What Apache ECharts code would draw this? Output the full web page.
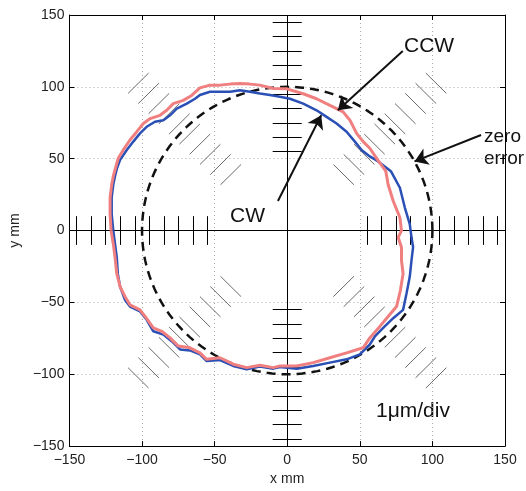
<!DOCTYPE html>
<html><head><meta charset="utf-8">
<script src="https://cdn.jsdelivr.net/npm/echarts@6/dist/echarts.min.js"></script>
<style>html,body{margin:0;padding:0;background:#fff}#c{width:526px;height:491px}</style>
</head><body><div id="c"></div>
<script>
// ---- data ----
const axisMin = -150, axisMax = 150, axisStep = 50;
const zeroErrorRadius = 100;                       // ideal circle (mm)
const divRadii = [55, 65, 75, 85, 95, 105, 115, 125, 135, 145]; // 1 µm/div marks
const axisDirections = [0, 90, 180, 270];           // degrees
const diagonalDirections = [45, 135, 225, 315];     // degrees

// CW run (blue), clockwise from the left
const cwPoints = [
  [-119.8,-0.1],[-120.9,11.4],[-120.9,22.9],[-119.8,32.0],[-118.6,37.8],[-117.2,43.5],[-115.1,49.2],
  [-110.5,56.1],[-106.0,61.9],[-101.4,67.6],[-96.8,72.2],[-91.1,75.7],[-85.3,76.8],[-80.7,80.2],
  [-76.1,84.8],[-69.2,88.3],[-63.5,91.7],[-60.1,94.3],[-53.2,96.6],[-46.3,96.6],[-39.4,96.6],
  [-32.6,97.7],[-25.7,96.6],[-18.8,95.4],[-11.9,94.3],[-5.0,93.1],[1.9,91.7],[11.0,88.3],
  [20.2,83.7],[27.1,79.1],[34.0,74.5],[40.9,68.8],[46.6,61.9],[51.2,56.1],[56.9,51.6],[62.4,48.3],
  [71.4,41.3],[77.6,29.8],[81.0,16.0],[84.4,4.5],[85.6,-4.7],[86.7,-11.6],[85.6,-20.7],[84.4,-32.2],
  [82.2,-43.7],[79.8,-55.2],[73.0,-61.0],[66.1,-67.8],[60.4,-73.6],[56.9,-79.3],[50.0,-86.2],
  [40.9,-89.6],[29.4,-91.9],[17.9,-94.2],[6.5,-96.1],[-5.0,-94.9],[-9.6,-96.1],[-18.8,-94.7],
  [-27.9,-96.5],[-37.2,-94.2],[-46.3,-90.1],[-55.5,-90.8],[-60.1,-86.2],[-67.0,-83.4],[-73.8,-82.7],
  [-79.6,-77.0],[-85.3,-72.4],[-92.2,-70.1],[-96.8,-62.1],[-101.4,-56.3],[-108.3,-52.9],[-111.7,-48.3],
  [-115.1,-39.1],[-116.7,-30.0],[-117.4,-18.5],[-118.6,-9.3],[-119.8,-0.1]
];

// CCW run (red), clockwise from the left
const ccwPoints = [
  [-121.3,-0.1],[-122.0,11.4],[-122.0,22.9],[-120.9,32.0],[-119.8,37.8],[-117.9,44.9],[-116.3,50.5],
  [-112.9,56.1],[-108.3,63.0],[-103.6,68.8],[-99.1,74.5],[-94.5,77.9],[-87.6,80.2],[-83.0,83.7],
  [-78.5,88.3],[-71.6,90.6],[-65.8,94.0],[-60.1,99.3],[-53.2,101.2],[-46.3,101.2],[-39.4,101.9],
  [-32.6,102.3],[-25.7,101.9],[-18.8,101.2],[-9.6,98.8],[-0.2,98.6],[11.0,95.2],[20.2,91.7],
  [29.4,87.1],[38.5,82.6],[43.2,76.8],[47.8,67.6],[52.3,61.9],[56.9,57.3],[62.4,49.0],[67.9,41.3],
  [69.5,32.0],[73.0,20.6],[77.6,9.1],[78.7,-0.1],[76.4,-4.7],[78.7,-11.6],[78.7,-20.7],[79.8,-30.0],
  [78.0,-41.4],[75.3,-52.9],[69.5,-59.8],[63.8,-66.7],[56.9,-74.7],[52.3,-81.6],[40.9,-85.1],
  [29.4,-88.5],[17.9,-91.9],[6.5,-94.2],[-5.0,-94.2],[-9.6,-95.4],[-18.8,-93.7],[-27.9,-95.4],
  [-37.2,-93.0],[-46.3,-88.5],[-55.5,-89.6],[-60.1,-85.1],[-67.0,-81.6],[-75.0,-80.4],[-80.7,-74.7],
  [-86.4,-70.1],[-92.2,-67.8],[-97.9,-59.8],[-101.4,-55.2],[-108.3,-51.7],[-111.7,-46.0],[-115.1,-39.1],
  [-117.4,-30.0],[-118.6,-18.5],[-119.8,-9.3],[-121.3,-0.1]
];

// ---- build helper geometry ----
const FONT = "'Liberation Sans', Arial, Helvetica, sans-serif";
const divHalf = 10;
function divSegments(dirs) {
  const out = [];
  dirs.forEach(d => {
    const a = d * Math.PI / 180, c = Math.cos(a), s = Math.sin(a);
    divRadii.forEach(r => {
      const cx = r * c, cy = r * s;
      out.push({ coords: [[cx + divHalf * s, cy - divHalf * c], [cx - divHalf * s, cy + divHalf * c]] });
    });
  });
  return out;
}
const axisSegs = divSegments(axisDirections).concat([
  { coords: [[axisMin, 0], [axisMax, 0]] },
  { coords: [[0, axisMin], [0, axisMax]] }
]);
const diagSegs = divSegments(diagonalDirections);
const circlePts = [];
for (let k = 0; k <= 180; k++) {
  const a = k * 2 * Math.PI / 180;
  circlePts.push([zeroErrorRadius * Math.cos(a), zeroErrorRadius * Math.sin(a)]);
}
const arrows = [
  { coords: [[79.6, 125.0], [34.9, 83.7]] },   // CCW
  { coords: [[-6.4, 20.6], [23.4, 80.2]] },    // CW
  { coords: [[133.5, 66.5], [87.7, 48.1]] }    // zero error
];

const fmt = v => String(v).replace('-', '\u2212');
const frameAxis = (pos, isX, main) => ({
  type: 'value', min: axisMin, max: axisMax, interval: axisStep, position: pos,
  axisLine: { show: true, onZero: false, lineStyle: { color: '#000', width: 1 } },
  axisTick: { show: true, inside: true, length: 5, lineStyle: { color: '#000', width: 1 } },
  axisLabel: main ? { show: true, margin: isX ? 7 : 5, fontSize: 14, color: '#222', fontFamily: FONT, formatter: fmt } : { show: false },
  splitLine: main ? { show: true, lineStyle: { type: [1, 3], color: '#aaa', width: 1 } } : { show: false },
  name: main ? (isX ? 'x mm' : 'y mm') : '',
  nameLocation: 'middle',
  nameGap: isX ? 23 : 37,
  nameTextStyle: { fontSize: 14, color: '#222', fontFamily: FONT }
});

const chart = echarts.init(document.getElementById('c'), null, { renderer: 'canvas' });
chart.setOption({
  animation: false,
  grid: { left: 69, right: 21, top: 15, bottom: 40 },
  xAxis: [frameAxis('bottom', true, true), frameAxis('top', true, false)],
  yAxis: [frameAxis('left', false, true), frameAxis('right', false, false)],
  series: [
    { type: 'lines', coordinateSystem: 'cartesian2d', silent: true, z: 1,
      lineStyle: { color: '#6a6a6a', width: 1, opacity: 1 }, data: diagSegs },
    { type: 'lines', coordinateSystem: 'cartesian2d', silent: true, z: 1,
      lineStyle: { color: '#000', width: 1, opacity: 1 }, data: axisSegs },
    { type: 'line', name: 'zero error', data: circlePts, showSymbol: false, z: 2,
      lineStyle: { color: '#111', width: 2.5, type: [9, 6] } },
    { type: 'line', name: 'CW', data: cwPoints, showSymbol: false, z: 3,
      lineStyle: { color: '#2a4fb5', width: 2.5 } },
    { type: 'line', name: 'CCW', data: ccwPoints, showSymbol: false, z: 4,
      lineStyle: { color: '#f07f80', width: 3 } },
    { type: 'lines', coordinateSystem: 'cartesian2d', silent: true, z: 5,
      symbol: ['none', 'arrow'], symbolSize: 13,
      lineStyle: { color: '#111', width: 2, opacity: 1 }, data: arrows }
  ],
  graphic: [
    { type: 'text', left: 404, top: 36, style: { text: 'CCW', font: '21px ' + FONT, fill: '#111' } },
    { type: 'text', left: 230, top: 206, style: { text: 'CW', font: '21px ' + FONT, fill: '#111' } },
    { type: 'text', left: 484, top: 126, style: { text: 'zero\nerror', font: '19px ' + FONT, fill: '#111', lineHeight: 22 } },
    { type: 'text', left: 376, top: 401, style: { text: '1\u03bcm/div', font: '21px ' + FONT, fill: '#111' } }
  ]
});
</script></body></html>
